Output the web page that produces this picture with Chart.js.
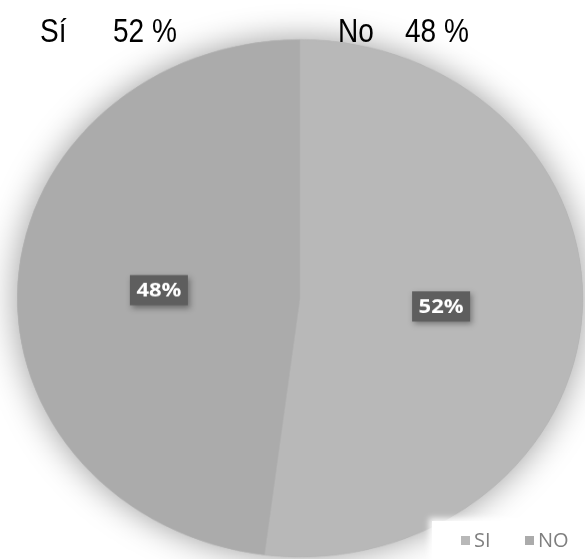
<!DOCTYPE html>
<html>
<head>
<meta charset="utf-8">
<script src="https://cdn.jsdelivr.net/npm/chart.js@4/dist/chart.umd.min.js"></script>
<style>
  html, body { margin: 0; padding: 0; background: #fff; overflow: hidden; }
  #wrap { position: relative; width: 585px; height: 559px; overflow: hidden; }
  #c { position: absolute; left: 0; top: 0; transform: scaleY(0.915); transform-origin: 0 0; }
  .head { position: absolute; top: 12px; font-family: "Liberation Sans", Arial, sans-serif; font-size: 33px;
          color: #000; transform: scaleX(0.85); transform-origin: 0 0; white-space: nowrap; }
  #legend { position: absolute; left: 432px; top: 521px; width: 153px; height: 38px; background: #fff;
            box-shadow: 0 0 6px 3px rgba(255,255,255,0.9); font-family: "Open Sans", sans-serif;
            font-size: 20px; color: #7f7f7f; }
  #legend span.item { position: absolute; top: 5px; }
  #legend i { display: inline-block; width: 9px; height: 9px; margin-right: 4px; vertical-align: 2px; }
</style>
</head>
<body>
<div id="wrap">
  <canvas id="c" width="585" height="612"></canvas>
  <div id="legend"></div>
</div>
<script>
const categories = ['SI', 'NO'];
const values = [52, 48];
const colors = ['#b8b8b8', '#ababab'];
const headLabels = ['Sí', 'No'];
const headValues = [52, 48];

// encabezados arriba: "Sí 52 %" y "No 48 %"
const headPos = [[40, 113], [338, 405]];
const wrap = document.getElementById('wrap');
headLabels.forEach((txt, i) => {
  const a = document.createElement('div');
  a.className = 'head';
  a.style.left = headPos[i][0] + 'px';
  a.textContent = txt;
  wrap.appendChild(a);
  const b = document.createElement('div');
  b.className = 'head';
  b.style.left = headPos[i][1] + 'px';
  b.textContent = headValues[i] + ' %';
  wrap.appendChild(b);
});

// sombra suave detrás del círculo
const pieShadow = {
  id: 'pieShadow',
  beforeDatasetsDraw(chart) {
    const arc = chart.getDatasetMeta(0).data[0];
    const ctx = chart.ctx;
    ctx.save();
    ctx.shadowColor = 'rgba(0,0,0,0.4)';
    ctx.shadowBlur = 36;
    ctx.beginPath();
    ctx.arc(arc.x, arc.y, arc.outerRadius, 0, Math.PI * 2);
    ctx.fillStyle = '#b0b0b0';
    ctx.fill();
    ctx.restore();
  }
};

// etiquetas con caja gris oscura
const boxLabels = {
  id: 'boxLabels',
  afterDatasetsDraw(chart) {
    const ctx = chart.ctx;
    const data = chart.data.datasets[0].data;
    chart.getDatasetMeta(0).data.forEach((arc, i) => {
      const p = arc.tooltipPosition();
      const w = 58, h = 33;
      ctx.save();
      ctx.shadowColor = 'rgba(0,0,0,0.35)';
      ctx.shadowBlur = 6;
      ctx.shadowOffsetX = 2;
      ctx.shadowOffsetY = 3;
      ctx.fillStyle = '#5e5e5e';
      ctx.fillRect(p.x - w / 2, p.y - h / 2, w, h);
      ctx.restore();
      ctx.save();
      ctx.fillStyle = '#fff';
      ctx.font = 'bold 22px "Open Sans", sans-serif';
      ctx.textAlign = 'center';
      ctx.textBaseline = 'middle';
      ctx.fillText(data[i] + '%', p.x, p.y + 1);
      ctx.restore();
    });
  }
};

const chart = new Chart(document.getElementById('c'), {
  type: 'pie',
  data: {
    labels: categories,
    datasets: [{ data: values, backgroundColor: colors, borderWidth: 0.5, borderColor: '#b4b4b4' }]
  },
  options: {
    responsive: false,
    animation: false,
    layout: { padding: { left: 17, right: 2, top: 43, bottom: 3 } },
    plugins: { legend: { display: false }, tooltip: { enabled: false } }
  },
  plugins: [pieShadow, boxLabels]
});

// leyenda abajo a la derecha
const legend = document.getElementById('legend');
const legendX = [29, 93];
categories.forEach((cat, i) => {
  const s = document.createElement('span');
  s.className = 'item';
  s.style.left = legendX[i] + 'px';
  s.innerHTML = '<i style="background:' + colors[i] + '"></i>' + cat;
  legend.appendChild(s);
});
</script>
</body>
</html>
